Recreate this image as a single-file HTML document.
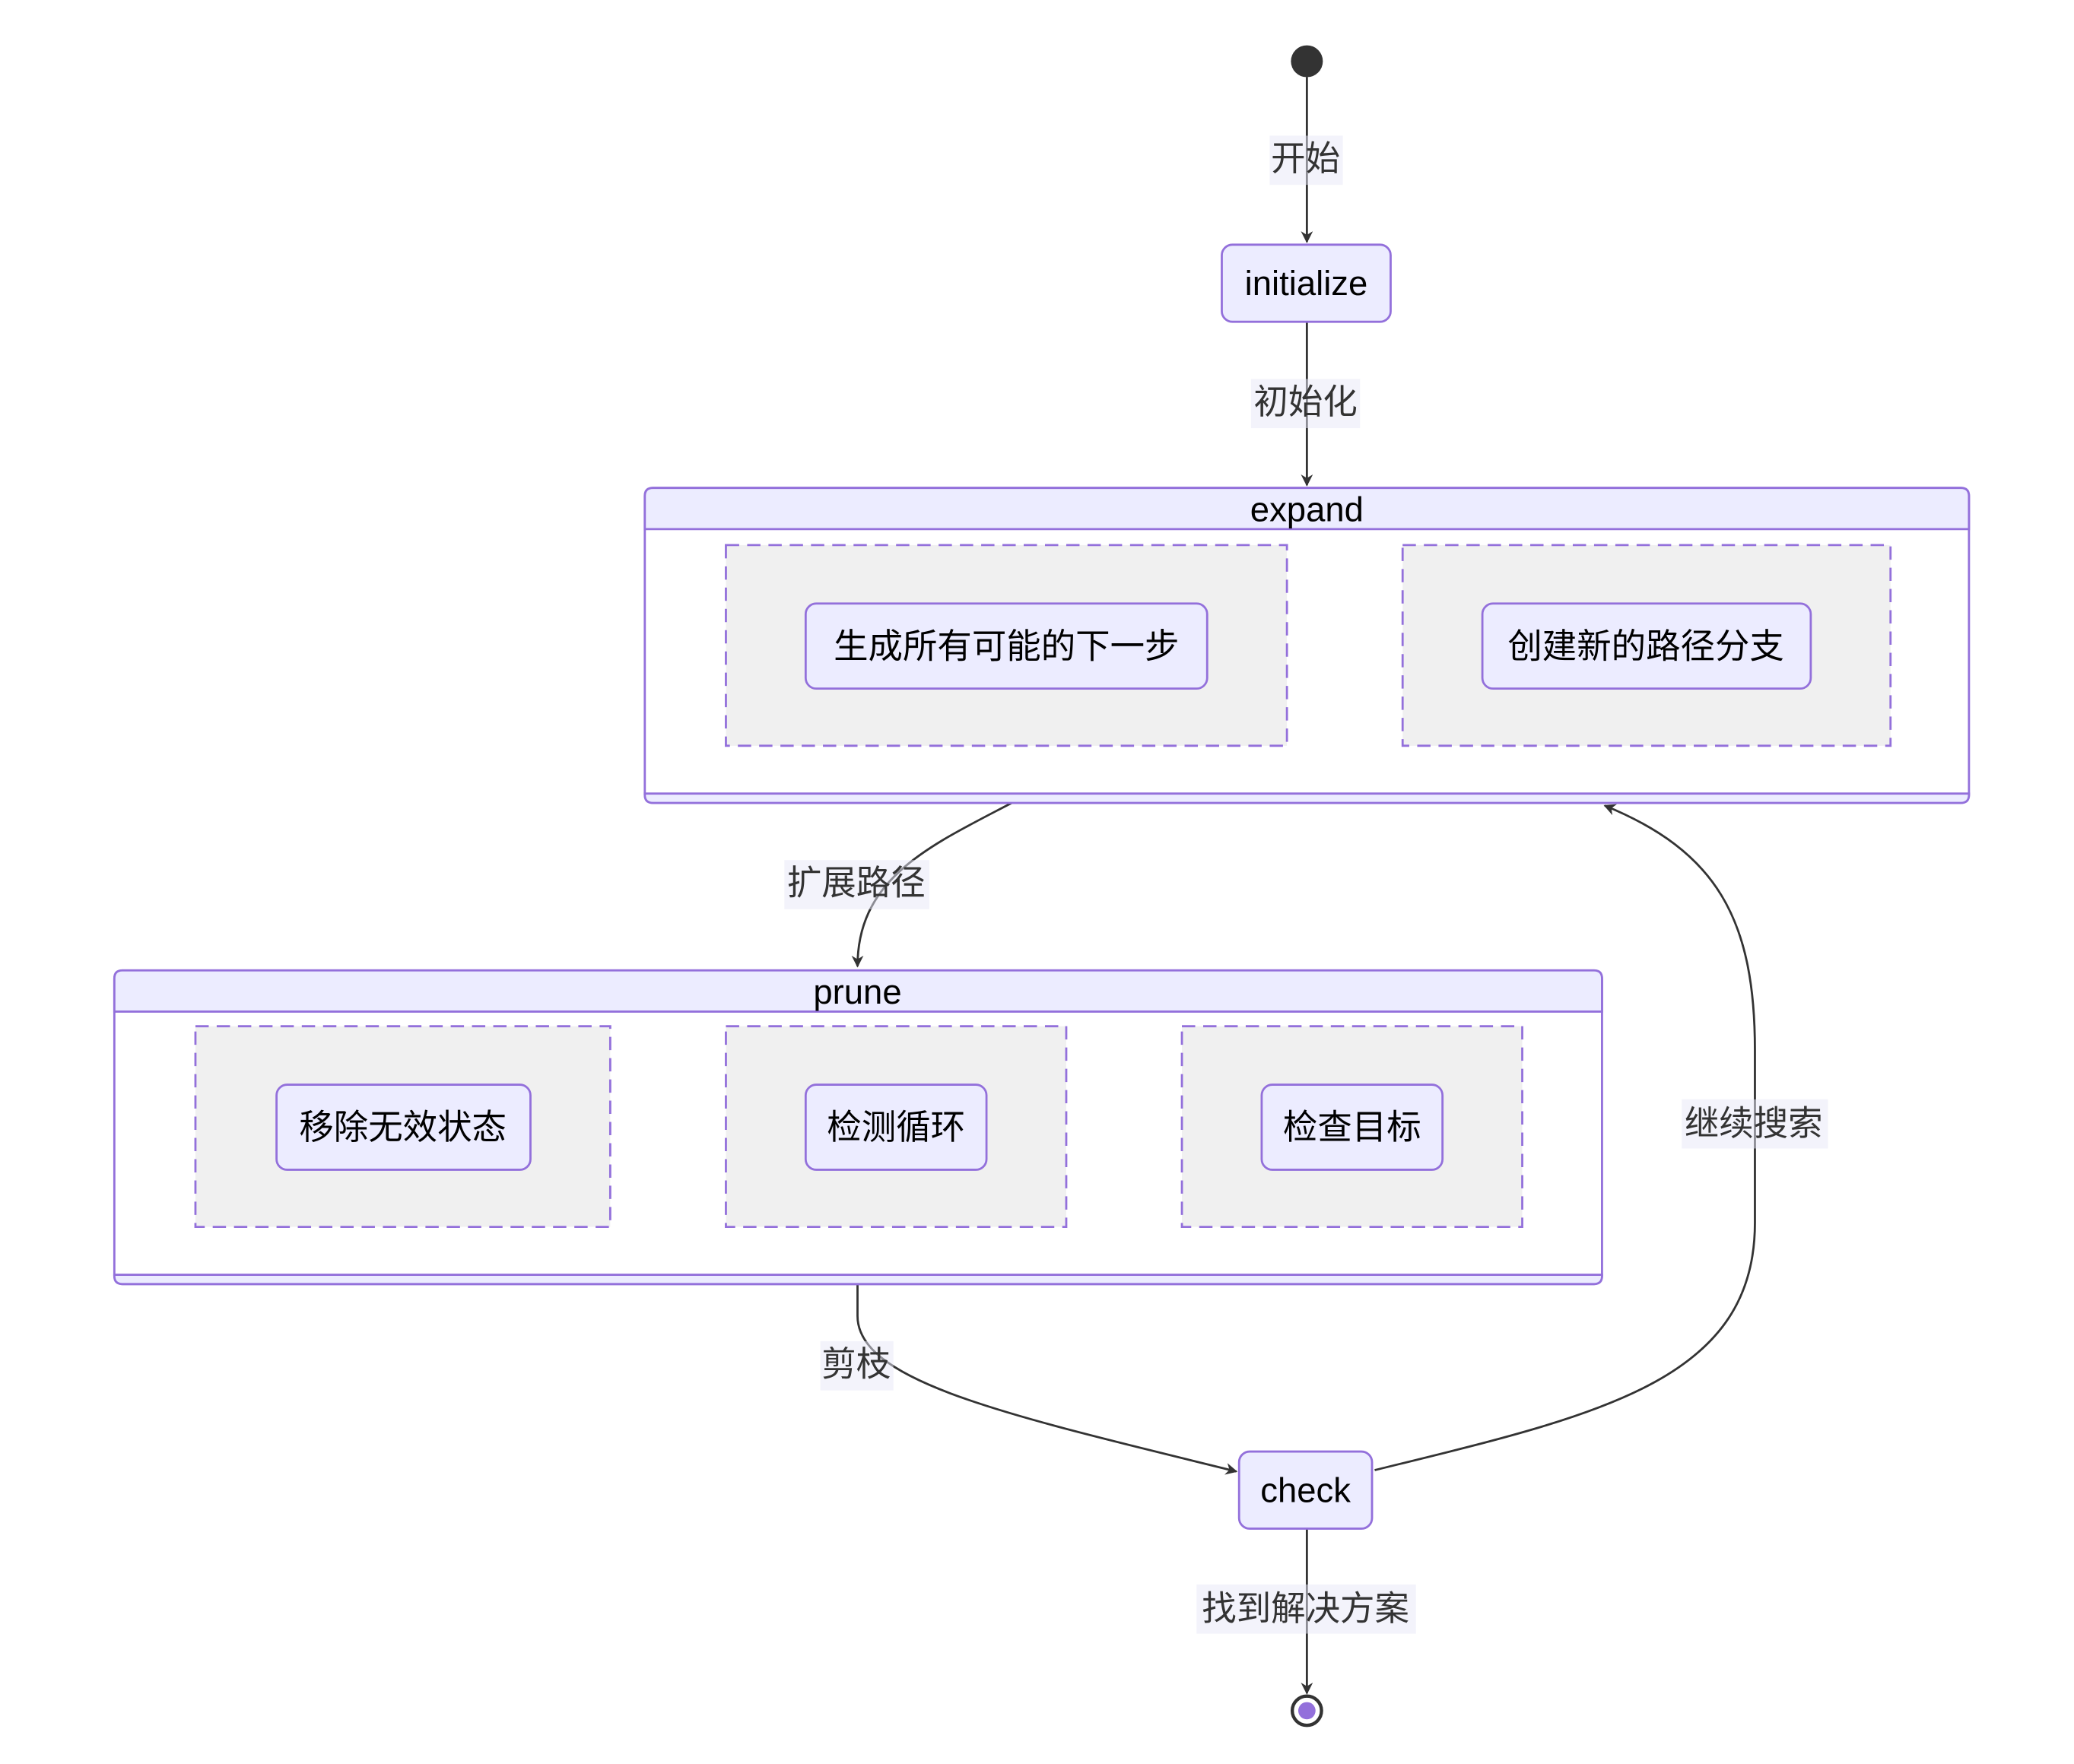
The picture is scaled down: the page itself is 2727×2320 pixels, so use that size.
<!DOCTYPE html>
<html><head><meta charset="utf-8"><style>
html,body{margin:0;padding:0;background:#fff;}
svg{display:block;}
text{font-family:"Liberation Sans","Noto Sans CJK SC",sans-serif;}
</style></head><body>
<svg width="2727" height="2320" viewBox="0 0 1560 1327" xmlns="http://www.w3.org/2000/svg">
<defs>
<marker id="a" viewBox="0 0 10 10" refX="9" refY="5" markerWidth="9" markerHeight="9" orient="auto-start-reverse" markerUnits="userSpaceOnUse">
<path d="M0,0 L10,5 L0,10 L3,5 z" fill="#333"/>
</marker>
</defs>
<rect width="1560" height="1327" fill="#fff"/>

<!-- edges -->
<g fill="none" stroke="#333" stroke-width="1.6">
<path d="M983,58 L983,182" marker-end="url(#a)"/>
<path d="M983,242 L983,365" marker-end="url(#a)"/>
<path d="M761,604 C700,636 645,660 645,727" marker-end="url(#a)"/>
<path d="M645,966 L645,990 C645,1040 760,1065 930,1107" marker-end="url(#a)"/>
<path d="M1034,1106 C1200,1065 1320,1040 1320,920 L1320,790 C1320,690 1290,640 1207,606" marker-end="url(#a)"/>
<path d="M983,1150 L983,1274" marker-end="url(#a)"/>
</g>

<!-- start / end -->
<circle cx="983" cy="46" r="12" fill="#333"/>
<circle cx="983" cy="1287" r="11" fill="#fff" stroke="#333" stroke-width="2.5"/>
<circle cx="983" cy="1287" r="6.5" fill="#9370DB"/>

<!-- edge labels -->
<g font-size="26" fill="#333" text-anchor="middle">
<rect x="955" y="102" width="55" height="37" fill="#e8e8f8" opacity="0.5"/>
<text x="982" y="128">开始</text>
<rect x="941" y="285" width="82" height="37" fill="#e8e8f8" opacity="0.5"/>
<text x="982" y="311">初始化</text>
<rect x="590" y="647" width="109" height="37" fill="#e8e8f8" opacity="0.5"/>
<text x="644" y="673">扩展路径</text>
<rect x="617" y="1009" width="55" height="37" fill="#e8e8f8" opacity="0.5"/>
<text x="644" y="1035">剪枝</text>
<rect x="1265" y="827" width="110" height="37" fill="#e8e8f8" opacity="0.5"/>
<text x="1319" y="854">继续搜索</text>
<rect x="900" y="1192" width="165" height="37" fill="#e8e8f8" opacity="0.5"/>
<text x="982" y="1219">找到解决方案</text>
</g>

<!-- initialize -->
<rect x="919" y="184" width="127" height="58" rx="8" fill="#ECECFF" stroke="#9370DB" stroke-width="1.6"/>
<text x="982.5" y="222" font-size="26" text-anchor="middle" fill="#000">initialize</text>

<!-- expand -->
<rect x="485" y="367" width="996" height="237" rx="6" fill="#fff" stroke="#9370DB" stroke-width="1.6"/>
<path d="M485,398 L485,373 Q485,367 491,367 L1475,367 Q1481,367 1481,373 L1481,398 Z" fill="#ECECFF" stroke="#9370DB" stroke-width="1.6"/>
<line x1="485" y1="597" x2="1481" y2="597" stroke="#9370DB" stroke-width="1.6"/>
<path d="M485,597 L1481,597 L1481,598 Q1481,604 1475,604 L491,604 Q485,604 485,598 Z" fill="#ECECFF" stroke="#9370DB" stroke-width="1.6"/>
<text x="983" y="392" font-size="26" text-anchor="middle" fill="#000">expand</text>
<g fill="#f0f0f0" stroke="#9370DB" stroke-width="1.6" stroke-dasharray="10,6">
<rect x="546" y="410" width="422" height="151"/>
<rect x="1055" y="410" width="367" height="151"/>
</g>
<g fill="#ECECFF" stroke="#9370DB" stroke-width="1.6">
<rect x="606" y="454" width="302" height="64" rx="8"/>
<rect x="1115" y="454" width="247" height="64" rx="8"/>
</g>
<g font-size="26" text-anchor="middle" fill="#000">
<text x="757" y="495">生成所有可能的下一步</text>
<text x="1238" y="495">创建新的路径分支</text>
</g>

<!-- prune -->
<rect x="86" y="730" width="1119" height="236" rx="6" fill="#fff" stroke="#9370DB" stroke-width="1.6"/>
<path d="M86,761 L86,736 Q86,730 92,730 L1199,730 Q1205,730 1205,736 L1205,761 Z" fill="#ECECFF" stroke="#9370DB" stroke-width="1.6"/>
<path d="M86,959 L1205,959 L1205,960 Q1205,966 1199,966 L92,966 Q86,966 86,960 Z" fill="#ECECFF" stroke="#9370DB" stroke-width="1.6"/>
<text x="645" y="755" font-size="26" text-anchor="middle" fill="#000">prune</text>
<g fill="#f0f0f0" stroke="#9370DB" stroke-width="1.6" stroke-dasharray="10,6">
<rect x="147" y="772" width="312" height="151"/>
<rect x="546" y="772" width="256" height="151"/>
<rect x="889" y="772" width="256" height="151"/>
</g>
<g fill="#ECECFF" stroke="#9370DB" stroke-width="1.6">
<rect x="208" y="816" width="191" height="64" rx="8"/>
<rect x="606" y="816" width="136" height="64" rx="8"/>
<rect x="949" y="816" width="136" height="64" rx="8"/>
</g>
<g font-size="26" text-anchor="middle" fill="#000">
<text x="303" y="857">移除无效状态</text>
<text x="674" y="857">检测循环</text>
<text x="1017" y="857">检查目标</text>
</g>

<!-- check -->
<rect x="932" y="1092" width="100" height="58" rx="8" fill="#ECECFF" stroke="#9370DB" stroke-width="1.6"/>
<text x="982" y="1130" font-size="26" text-anchor="middle" fill="#000">check</text>
</svg>
</body></html>
